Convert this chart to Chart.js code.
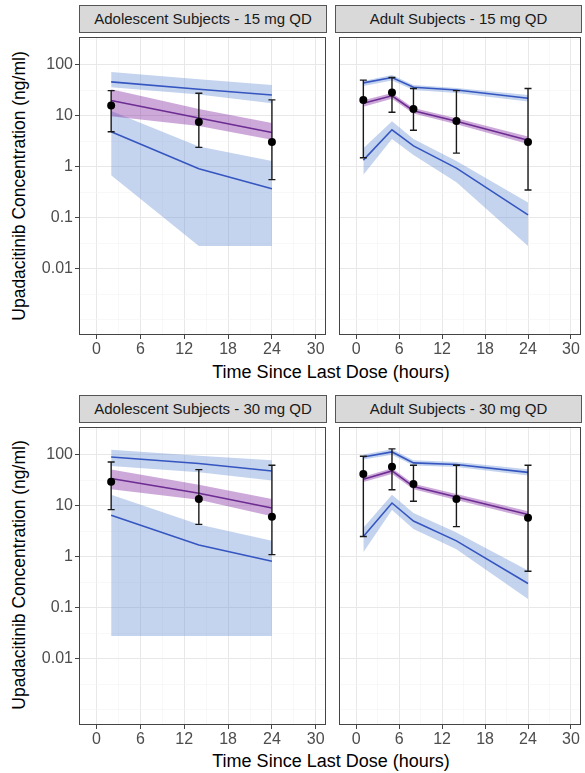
<!DOCTYPE html>
<html>
<head>
<meta charset="utf-8">
<title>Upadacitinib concentration-time profiles</title>
<script src="https://cdn.jsdelivr.net/npm/chart.js@4.4.1/dist/chart.umd.min.js"></script>
<style>
  html, body { margin: 0; padding: 0; background: #fff; }
  body { width: 585px; height: 773px; position: relative; overflow: hidden; font-family: "Liberation Sans", Arial, sans-serif; }
  canvas { position: absolute; }
  .strip {
    position: absolute; height: 28px; box-sizing: border-box;
    background: #d9d9d9; border: 1px solid #555;
    font-size: 15px; color: #1a1a1a; text-align: center; line-height: 26px;
  }
  .ytitle {
    position: absolute; left: 19px; white-space: nowrap;
    font-size: 17.5px; color: #000;
    transform: translate(-50%, -50%) rotate(-90deg);
  }
  .xtitle {
    position: absolute; left: 331px; white-space: nowrap;
    font-size: 18px; color: #000;
    transform: translate(-50%, -50%);
  }
</style>
</head>
<body>

<div class="strip" style="left:79px;top:5px;width:248px">Adolescent Subjects - 15 mg QD</div>
<div class="strip" style="left:335px;top:5px;width:247px">Adult Subjects - 15 mg QD</div>
<div class="strip" style="left:79px;top:395px;width:248px">Adolescent Subjects - 30 mg QD</div>
<div class="strip" style="left:335px;top:395px;width:247px">Adult Subjects - 30 mg QD</div>

<div class="ytitle" style="top:186px">Upadacitinib Concentration (ng/ml)</div>
<div class="ytitle" style="top:575px">Upadacitinib Concentration (ng/ml)</div>
<div class="xtitle" style="top:372px">Time Since Last Dose (hours)</div>
<div class="xtitle" style="top:761px">Time Since Last Dose (hours)</div>

<canvas id="adol15" width="300" height="332" style="left:30px;top:33px"></canvas>
<canvas id="adult15" width="250" height="332" style="left:335px;top:33px"></canvas>
<canvas id="adol30" width="300" height="332" style="left:30px;top:423px"></canvas>
<canvas id="adult30" width="250" height="332" style="left:335px;top:423px"></canvas>

<script>
// axis ticks
const xTicks = [0, 6, 12, 18, 24, 30];
const yTicks = [0.01, 0.1, 1, 10, 100];
const yTickLabels = ['0.01', '0.1', '1', '10', '100'];

// Adolescent, 15 mg QD
const adol15Time = [2, 14, 24];
const adol15Obs = [15.9, 7.5, 3.07];
const adol15ObsLo = [4.85, 2.4, 0.56];
const adol15ObsHi = [31, 27.5, 20.4];
const adol15Med = [19.9, 9.0, 4.7];
const adol15MedLo = [9.8, 6.3, 3.4];
const adol15MedHi = [33, 13.5, 7.2];
const adol15P95 = [46, 33, 25.5];
const adol15P95Lo = [36, 26, 17.6];
const adol15P95Hi = [72, 52, 40];
const adol15P05 = [4.85, 0.91, 0.37];
const adol15P05Lo = [0.68, 0.028, 0.028];
const adol15P05Hi = [12.3, 2.5, 1.3];

// Adult, 15 mg QD
const adult15Time = [1, 5, 8, 14, 24];
const adult15Obs = [20.4, 28.4, 13.5, 7.9, 3.07];
const adult15ObsLo = [1.5, 11.7, 5.2, 1.85, 0.35];
const adult15ObsHi = [49.7, 56, 34, 31, 34];
const adult15Med = [17.5, 24.5, 12.5, 7.8, 3.3];
const adult15MedLo = [15, 21.5, 11, 6.8, 2.8];
const adult15MedHi = [20, 28, 14.2, 8.9, 3.9];
const adult15P95 = [44, 56, 36, 31.8, 22];
const adult15P95Lo = [38, 49, 32, 28, 19];
const adult15P95Hi = [48, 63, 40, 35, 25.5];
const adult15P05 = [1.35, 5.3, 2.57, 0.94, 0.114];
const adult15P05Lo = [0.7, 3.5, 1.7, 0.5, 0.028];
const adult15P05Hi = [2.3, 7.8, 3.5, 1.3, 0.2];

// Adolescent, 30 mg QD
const adol30Time = [2, 14, 24];
const adol30Obs = [29.6, 13.5, 6.07];
const adol30ObsLo = [8.4, 4.3, 1.1];
const adol30ObsHi = [72, 51, 62];
const adol30Med = [34, 17.6, 9.05];
const adol30MedLo = [21, 13.1, 6.2];
const adol30MedHi = [51, 25.6, 13.5];
const adol30P95 = [90, 67, 48];
const adol30P95Lo = [60, 45, 31];
const adol30P95Hi = [125, 95, 78];
const adol30P05 = [6.5, 1.7, 0.82];
const adol30P05Lo = [0.028, 0.028, 0.028];
const adol30P05Hi = [16.4, 4.3, 2.05];

// Adult, 30 mg QD
const adult30Time = [1, 5, 8, 14, 24];
const adult30Obs = [41.7, 57.8, 26.7, 13.5, 5.8];
const adult30ObsLo = [2.5, 20.5, 12.2, 3.9, 0.52];
const adult30ObsHi = [93, 130, 62, 62, 62];
const adult30Med = [32.9, 48, 23.7, 14.8, 6.7];
const adult30MedLo = [29, 42, 21, 13, 5.8];
const adult30MedHi = [37, 54, 27, 17, 7.8];
const adult30P95 = [90, 113, 69, 64, 45];
const adult30P95Lo = [80, 100, 61, 57, 39];
const adult30P95Hi = [101, 127, 78, 72, 52];
const adult30P05 = [2.5, 11.3, 5.0, 2.05, 0.30];
const adult30P05Lo = [1.22, 8.2, 3.5, 1.4, 0.149];
const adult30P05Hi = [3.7, 16.4, 7.2, 3.0, 0.54];

const BLUE_LINE = '#3556c0';
const BLUE_BAND = 'rgba(100, 140, 210, 0.38)';
const PURPLE_LINE = '#6c2c92';
const PURPLE_BAND = 'rgba(130, 40, 160, 0.40)';
const GRID_MAJOR = '#e8e8e8';
const GRID_MINOR = '#f3f3f3';

// gridlines: labelled breaks plus half-decade / half-step minor lines
const yGrid = [];
[0.001].concat(yTicks).forEach(v => { yGrid.push(v); yGrid.push(v * Math.sqrt(10)); });
const xGrid = [];
xTicks.forEach(v => { xGrid.push(v); if (v < 30) xGrid.push(v + 3); });

function pts(xs, ys) {
  return xs.map((x, i) => ({ x: x, y: ys[i] }));
}

function band(xs, hi, lo, color) {
  return [
    { data: pts(xs, hi), borderWidth: 0, pointRadius: 0, fill: '+1', backgroundColor: color, order: 3 },
    { data: pts(xs, lo), borderWidth: 0, pointRadius: 0, fill: false, order: 3 }
  ];
}

function line(xs, ys, color) {
  return { data: pts(xs, ys), borderColor: color, borderWidth: 1.6, pointRadius: 0, fill: false, tension: 0, order: 2 };
}

function makePanel(id, d, showY) {
  const obsIndex = 9;

  // whiskers for observed mean +/- SD, drawn under the points
  const errorBars = {
    id: 'errorBars',
    beforeDatasetDraw(chart, args) {
      if (args.index !== obsIndex) return;
      const { ctx, scales } = chart;
      ctx.save();
      ctx.strokeStyle = '#1a1a1a';
      ctx.lineWidth = 1.4;
      d.time.forEach((t, i) => {
        const x = scales.x.getPixelForValue(t);
        const y1 = scales.y.getPixelForValue(d.obsLo[i]);
        const y2 = scales.y.getPixelForValue(d.obsHi[i]);
        ctx.beginPath();
        ctx.moveTo(x, y1); ctx.lineTo(x, y2);
        ctx.moveTo(x - 3.5, y1); ctx.lineTo(x + 3.5, y1);
        ctx.moveTo(x - 3.5, y2); ctx.lineTo(x + 3.5, y2);
        ctx.stroke();
      });
      ctx.restore();
    }
  };

  const panelBorder = {
    id: 'panelBorder',
    afterDraw(chart) {
      const a = chart.chartArea;
      const ctx = chart.ctx;
      ctx.save();
      ctx.strokeStyle = '#444';
      ctx.lineWidth = 1;
      ctx.strokeRect(Math.round(a.left) + 0.5, Math.round(a.top) + 0.5,
        Math.round(a.right - a.left) - 1, Math.round(a.bottom - a.top) - 1);
      ctx.restore();
    }
  };

  const datasets = [].concat(
    band(d.time, d.medHi, d.medLo, PURPLE_BAND),
    band(d.time, d.p95Hi, d.p95Lo, BLUE_BAND),
    band(d.time, d.p05Hi, d.p05Lo, BLUE_BAND),
    [line(d.time, d.p95, BLUE_LINE), line(d.time, d.p05, BLUE_LINE), line(d.time, d.med, PURPLE_LINE)],
    [{ data: pts(d.time, d.obs), showLine: false, pointRadius: 4, pointHoverRadius: 4,
       pointBackgroundColor: '#000', pointBorderWidth: 0, order: 1 }]
  );

  new Chart(document.getElementById(id), {
    type: 'line',
    data: { datasets: datasets },
    options: {
      responsive: false,
      animation: false,
      layout: { padding: { left: 0, right: 3, top: 0, bottom: 0 } },
      plugins: { legend: { display: false }, tooltip: { enabled: false } },
      scales: {
        x: {
          type: 'linear',
          min: -2.4,
          max: 31.4,
          afterBuildTicks: s => { s.ticks = xGrid.map(v => ({ value: v })); },
          afterFit: s => { s.height = 30; s.paddingLeft = 0; s.paddingRight = 0; },
          ticks: {
            autoSkip: false, maxRotation: 0, padding: 1,
            color: '#4d4d4d', font: { family: 'Liberation Sans', size: 16 },
            callback: v => xTicks.includes(v) ? String(v) : ''
          },
          grid: {
            color: c => xTicks.includes(c.tick.value) ? GRID_MAJOR : GRID_MINOR,
            lineWidth: c => xTicks.includes(c.tick.value) ? 1 : 0.6,
            tickColor: c => xTicks.includes(c.tick.value) ? '#444' : 'rgba(0,0,0,0)',
            tickLength: 4,
            tickWidth: 1
          },
          border: { display: false }
        },
        y: {
          type: 'logarithmic',
          min: 0.000507,
          max: 348,
          afterBuildTicks: s => { s.ticks = yGrid.map(v => ({ value: v })); },
          afterFit: s => { s.width = showY ? 49 : 0; s.paddingTop = 0; s.paddingBottom = 0; },
          ticks: {
            display: showY, autoSkip: false, padding: 2,
            color: '#4d4d4d', font: { family: 'Liberation Sans', size: 16 },
            callback: v => {
              const i = yTicks.indexOf(v);
              return i >= 0 ? yTickLabels[i] : '';
            }
          },
          grid: {
            color: c => yTicks.includes(c.tick.value) ? GRID_MAJOR : GRID_MINOR,
            lineWidth: c => yTicks.includes(c.tick.value) ? 1 : 0.6,
            tickColor: c => yTicks.includes(c.tick.value) ? '#444' : 'rgba(0,0,0,0)',
            drawTicks: showY,
            tickLength: 4,
            tickWidth: 1
          },
          border: { display: false }
        }
      }
    },
    plugins: [errorBars, panelBorder]
  });
}

makePanel('adol15', {
  time: adol15Time, obs: adol15Obs, obsLo: adol15ObsLo, obsHi: adol15ObsHi,
  med: adol15Med, medLo: adol15MedLo, medHi: adol15MedHi,
  p95: adol15P95, p95Lo: adol15P95Lo, p95Hi: adol15P95Hi,
  p05: adol15P05, p05Lo: adol15P05Lo, p05Hi: adol15P05Hi
}, true);

makePanel('adult15', {
  time: adult15Time, obs: adult15Obs, obsLo: adult15ObsLo, obsHi: adult15ObsHi,
  med: adult15Med, medLo: adult15MedLo, medHi: adult15MedHi,
  p95: adult15P95, p95Lo: adult15P95Lo, p95Hi: adult15P95Hi,
  p05: adult15P05, p05Lo: adult15P05Lo, p05Hi: adult15P05Hi
}, false);

makePanel('adol30', {
  time: adol30Time, obs: adol30Obs, obsLo: adol30ObsLo, obsHi: adol30ObsHi,
  med: adol30Med, medLo: adol30MedLo, medHi: adol30MedHi,
  p95: adol30P95, p95Lo: adol30P95Lo, p95Hi: adol30P95Hi,
  p05: adol30P05, p05Lo: adol30P05Lo, p05Hi: adol30P05Hi
}, true);

makePanel('adult30', {
  time: adult30Time, obs: adult30Obs, obsLo: adult30ObsLo, obsHi: adult30ObsHi,
  med: adult30Med, medLo: adult30MedLo, medHi: adult30MedHi,
  p95: adult30P95, p95Lo: adult30P95Lo, p95Hi: adult30P95Hi,
  p05: adult30P05, p05Lo: adult30P05Lo, p05Hi: adult30P05Hi
}, false);
</script>
</body>
</html>
